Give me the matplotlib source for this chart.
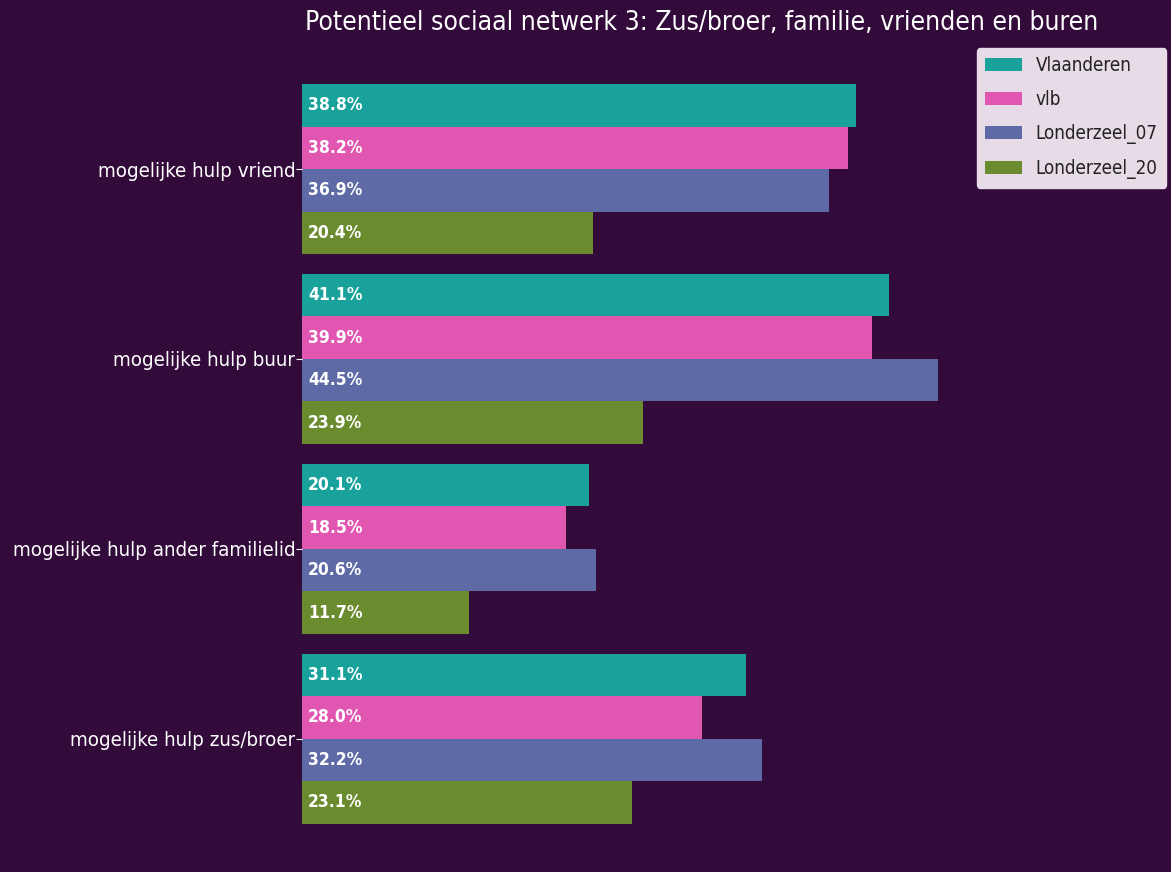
import matplotlib
matplotlib.use("Agg")
import matplotlib.pyplot as plt
import numpy as np

# data
categories = ["mogelijke hulp vriend", "mogelijke hulp buur",
              "mogelijke hulp ander familielid", "mogelijke hulp zus/broer"]
series = ["Vlaanderen", "vlb", "Londerzeel_07", "Londerzeel_20"]
vlaanderen = [38.8, 41.1, 20.1, 31.1]
vlb = [38.2, 39.9, 18.5, 28.0]
londerzeel_07 = [36.9, 44.5, 20.6, 32.2]
londerzeel_20 = [20.4, 23.9, 11.7, 23.1]

values = [vlaanderen, vlb, londerzeel_07, londerzeel_20]
colors = ["#18a29b", "#e056b0", "#5e6aa6", "#6b8b2f"]
bg = "#320b3b"

plt.rcParams['font.family'] = ['DejaVu Sans']

fig = plt.figure(figsize=(11.71, 8.72), dpi=100, facecolor=bg)
ax = fig.add_axes([0.258, 0.044, 0.683, 0.871], facecolor=bg)

n = len(categories)
y = np.arange(n)
h = 0.224
for k, (name, vals) in enumerate(zip(series, values)):
    pos = y + (k - 1.5) * h
    ax.barh(pos, vals, height=h, color=colors[k], label=name)
    for p, v in zip(pos, vals):
        ax.text(0.4, p, f"{v:.1f}%", color="white", fontsize=12.5,
                fontweight="bold", va="center", ha="left", stretch="condensed")

ax.set_ylim(n - 0.5, -0.5)
ax.set_xlim(0, 56)
ax.set_yticks(y)
ax.set_yticklabels(categories, fontsize=14.7, color="white", stretch="condensed")
ax.tick_params(axis="y", colors="white", length=4, pad=1)
ax.set_xticks([])
for s in ax.spines.values():
    s.set_visible(False)

ax.set_title("Potentieel sociaal netwerk 3: Zus/broer, familie, vrienden en buren",
             color="white", fontsize=19, pad=32, stretch="condensed")

leg = fig.legend(loc="upper right", bbox_to_anchor=(0.996, 0.945),
                 prop={"size": 13.5, "stretch": "condensed"},
                 facecolor="#e6dbe6", edgecolor="#e6dbe6", framealpha=1,
                 handlelength=1.95, handleheight=0.7, borderpad=0.45,
                 labelspacing=0.8, handletextpad=0.75, borderaxespad=0.0)
for t in leg.get_texts():
    t.set_color("#222222")

fig.savefig("out.png", dpi=100, facecolor=bg)
